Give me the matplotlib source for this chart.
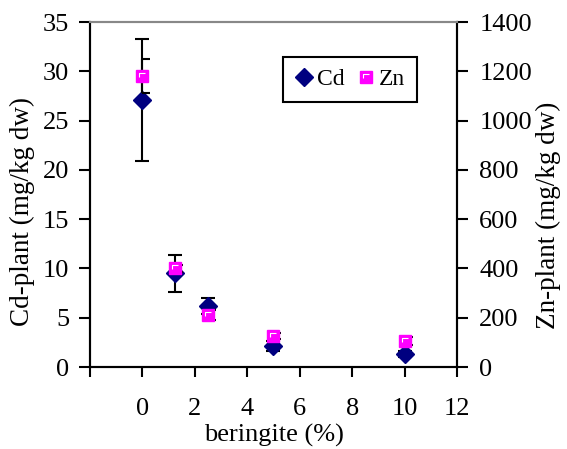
import matplotlib
matplotlib.use("Agg")
import matplotlib.pyplot as plt
from matplotlib.path import Path
from matplotlib.legend_handler import HandlerTuple

# data
beringite = [0, 1.25, 2.5, 5, 10]
cd_plant = [27.1, 9.5, 6.2, 2.1, 1.3]
cd_err = [6.2, 1.85, 0.8, 0.5, 0.3]
zn_plant = [1180, 400, 212, 125, 105]
zn_err = [70, 14, 20, 12, 15]

x_ticks = [-2, 0, 2, 4, 6, 8, 10, 12]
x_ticklabels = ["", "0", "2", "4", "6", "8", "10", "12"]

plt.rcParams.update({
    "font.family": ["Liberation Serif", "DejaVu Serif"],
    "font.size": 16,
})

# white corner highlight on the Zn squares, like the original spreadsheet marker
gamma = Path([(-1, -0.4), (-1, 1), (1, 1)], [Path.MOVETO, Path.LINETO, Path.LINETO])
halfcap = Path([(0, 0), (1, 0)], [Path.MOVETO, Path.LINETO])

fig = plt.figure(figsize=(5.67, 4.49), dpi=100)
ax = fig.add_axes([0.1587, 0.1826, 0.6473, 0.7684])
ax2 = ax.twinx()

navy = "#000080"
magenta = "#FF00FF"

# Cd on primary axis
ax.errorbar(beringite, cd_plant, yerr=cd_err, fmt="none", ecolor="black",
            elinewidth=1.5, capsize=5, capthick=1.5, zorder=2)
ax.plot(beringite, cd_plant, ls="none", marker="D", ms=9.5, color=navy,
        markeredgecolor=navy, zorder=3)

# Zn on secondary axis
ax2.errorbar(beringite, zn_plant, yerr=zn_err, fmt="none", ecolor="black",
             elinewidth=1.5, capsize=0, zorder=2)
zn_lo = [v - e for v, e in zip(zn_plant, zn_err)]
zn_hi = [v + e for v, e in zip(zn_plant, zn_err)]
for yy in (zn_lo, zn_hi):
    ax2.plot(beringite, yy, ls="none", marker=halfcap, ms=12, mew=1.5,
             color="black", zorder=2)
ax2.plot(beringite, zn_plant, ls="none", marker="s", ms=8.5, color=magenta,
         markeredgecolor=magenta, zorder=3)
ax2.plot(beringite, zn_plant, ls="none", marker=gamma, ms=5, mew=0.8,
         color="white", fillstyle="none", zorder=4)

ax.set_xlim(-2, 12)
ax.set_ylim(0, 35)
ax2.set_ylim(0, 1400)
ax.set_xticks(x_ticks)
ax.set_xticklabels(x_ticklabels)
ax.set_yticks(range(0, 36, 5))
ax2.set_yticks(range(0, 1401, 200))

ax.tick_params(axis="x", direction="out", length=7, width=1.5, pad=15, labelsize=19)
ax.tick_params(axis="y", direction="out", length=8, width=1.5, pad=7, labelsize=19)
ax2.tick_params(axis="y", direction="out", length=8, width=1.5, pad=8, labelsize=19)

for a in (ax, ax2):
    a.spines["top"].set_color("#888888")
    a.spines["top"].set_linewidth(1.5)
    for s in ("left", "right", "bottom"):
        a.spines[s].set_linewidth(1.5)
        a.spines[s].set_color("black")

ax.set_xlabel("beringite (%)", fontsize=19)
ax.xaxis.set_label_coords(0.5, -0.165)
ax.set_ylabel("Cd-plant (mg/kg dw)", fontsize=19.5)
ax.yaxis.set_label_coords(-0.15, 0.45)
ax2.set_ylabel("Zn-plant (mg/kg dw)", fontsize=19.5, rotation=90)
ax2.yaxis.set_label_coords(1.215, 0.44)

h_cd = plt.Line2D([], [], ls="none", marker="D", ms=9.5, color=navy)
h_sq = plt.Line2D([], [], ls="none", marker="s", ms=8.5, color=magenta)
h_g = plt.Line2D([], [], ls="none", marker=gamma, ms=5, mew=0.8, color="white",
                 fillstyle="none")
leg = ax2.legend([h_cd, (h_sq, h_g)], ["Cd", "Zn"], ncol=2,
                 handler_map={tuple: HandlerTuple(ndivide=1)},
                 loc="upper left", bbox_to_anchor=(0.526, 0.899),
                 fancybox=False, edgecolor="black", framealpha=1,
                 fontsize=17, handlelength=0.8, handletextpad=0.15,
                 columnspacing=0.5, borderpad=0.5, borderaxespad=0)
leg.get_frame().set_linewidth(1.5)

fig.savefig("out.png", dpi=100, facecolor="white")
